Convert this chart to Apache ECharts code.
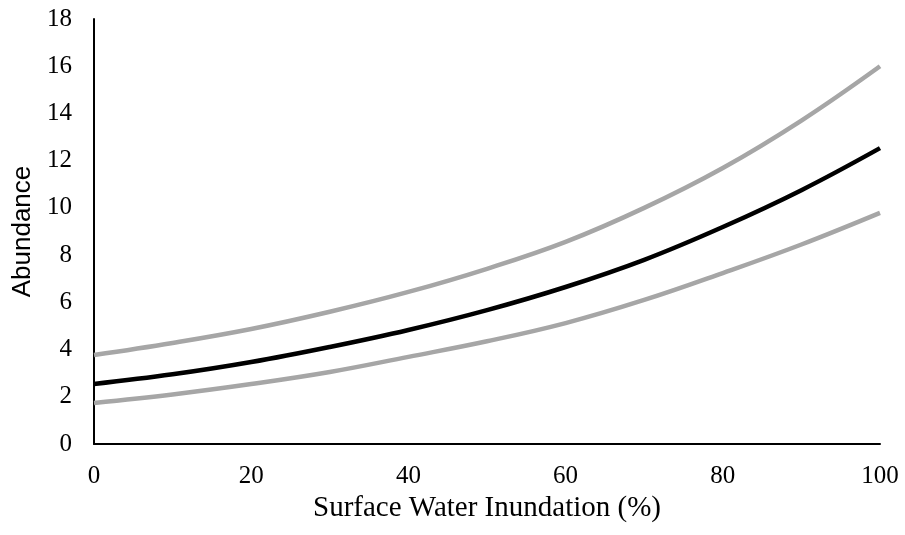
<!doctype html>
<html>
<head>
<meta charset="utf-8">
<script src="https://cdn.jsdelivr.net/npm/echarts@6/dist/echarts.min.js"></script>
<style>
    html, body { margin: 0; padding: 0; background: #fff; }
    #chart { width: 905px; height: 535px; }
</style>
</head>
<body>
<div id="chart"></div>
<script>
    // inundation (%) and the fitted abundance with its upper / lower bounds
    var inundation = [0, 10, 20, 30, 40, 50, 60, 70, 80, 90, 100];
    var upperBound = [3.77, 4.28, 4.87, 5.6, 6.44, 7.42, 8.56, 10.0, 11.69, 13.7, 16.0];
    var abundance  = [2.54, 2.95, 3.47, 4.11, 4.83, 5.67, 6.65, 7.8, 9.19, 10.75, 12.53];
    var lowerBound = [1.74, 2.1, 2.54, 3.05, 3.69, 4.35, 5.12, 6.1, 7.24, 8.45, 9.79];

    function pairs(ys) {
        return inundation.map(function (x, i) { return [x, ys[i]]; });
    }

    var myChart = echarts.init(document.getElementById('chart'));
    var serif = '"Liberation Serif", "Times New Roman", serif';

    var option = {
        animation: false,
        grid: { left: 94, right: 25, top: 19, bottom: 91 },
        xAxis: {
            type: 'value',
            min: 0, max: 100, interval: 20,
            name: 'Surface Water Inundation (%)',
            nameLocation: 'middle',
            nameGap: 46,
            nameTextStyle: { fontFamily: serif, fontSize: 29, color: '#000' },
            axisLine: { lineStyle: { color: '#000', width: 2 } },
            axisTick: { show: false },
            splitLine: { show: false },
            axisLabel: { fontFamily: serif, fontSize: 25, color: '#000', margin: 20 }
        },
        yAxis: {
            type: 'value',
            min: 0, max: 18, interval: 2,
            name: 'Abundance',
            nameLocation: 'middle',
            nameGap: 58,
            nameTextStyle: { fontFamily: '"Liberation Sans", Arial, sans-serif', fontSize: 26, color: '#000' },
            axisLine: { show: true, lineStyle: { color: '#000', width: 2 } },
            axisTick: { show: false },
            splitLine: { show: false },
            axisLabel: { fontFamily: serif, fontSize: 25, color: '#000', margin: 22 }
        },
        series: [
            { type: 'line', data: pairs(upperBound), smooth: 0.4, symbol: 'none',
              lineStyle: { color: '#a6a6a6', width: 4.5 } },
            { type: 'line', data: pairs(lowerBound), smooth: 0.4, symbol: 'none',
              lineStyle: { color: '#a6a6a6', width: 4.5 } },
            { type: 'line', data: pairs(abundance), smooth: 0.4, symbol: 'none',
              lineStyle: { color: '#000', width: 4.5 } }
        ]
    };

    myChart.setOption(option);
</script>
</body>
</html>
